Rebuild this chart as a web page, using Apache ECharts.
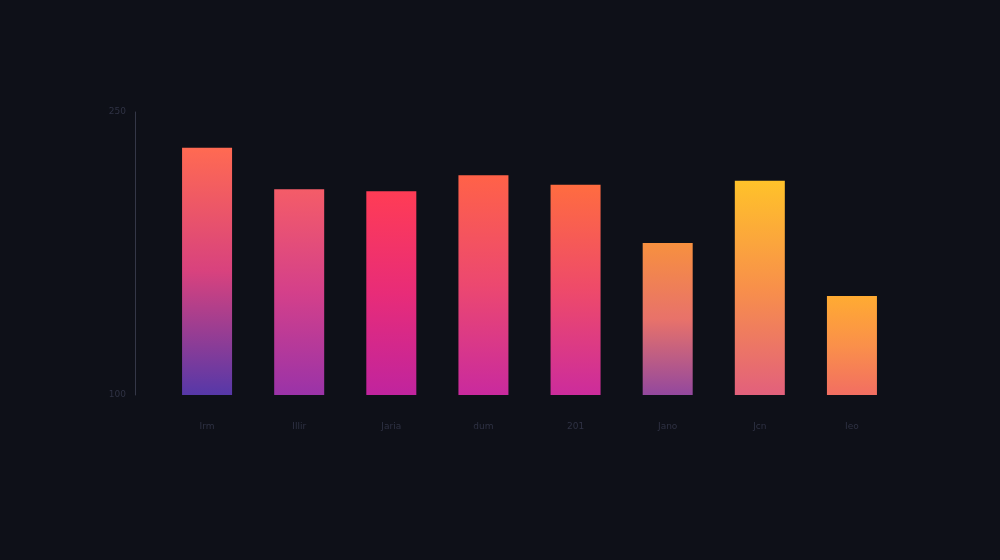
<!DOCTYPE html>
<html>
<head>
<meta charset="utf-8">
<script src="https://cdn.jsdelivr.net/npm/echarts@6/dist/echarts.min.js"></script>
<style>
html,body{margin:0;padding:0;background:#0e1018;}
#c{width:1000px;height:560px;}
</style>
</head>
<body>
<div id="c"></div>
<script>
const categories = ['Irm', 'Illir', 'Jaria', 'dum', '201', 'Jano', 'Jcn', 'Ieo'];
const values = [231, 209, 208, 216.5, 211.5, 180.5, 213.5, 152.5];
const topColors = ['#ff6a52', '#f45c68', '#ff3c55', '#ff6248', '#ff6c40', '#f7903f', '#ffc22a', '#ffab32'];
const midColors = ['#d8427e', '#d4408a', '#e82c78', '#ec4870', '#ee4a6a', '#e8726a', '#f8904a', '#fa904a'];
const bottomColors = ['#5638a8', '#9a33a8', '#c0249e', '#c92a9e', '#cc2c9c', '#93489e', '#e2607c', '#f26e62'];
const yTickLabels = { 100: '100', 250: '250' };

const chart = echarts.init(document.getElementById('c'));
chart.setOption({
  backgroundColor: '#0e1018',
  animation: false,
  grid: { left: 161, right: 102, top: 112, bottom: 165 },
  xAxis: {
    type: 'category',
    data: categories,
    axisLine: { show: false },
    axisTick: { show: false },
    axisLabel: { color: '#2f3244', fontSize: 9, margin: 27, fontFamily: 'DejaVu Sans' }
  },
  yAxis: {
    type: 'value',
    min: 100,
    max: 250,
    interval: 50,
    offset: 26,
    splitLine: { show: false },
    axisTick: { show: false },
    axisLine: { show: true, lineStyle: { color: '#343747', width: 1 } },
    axisLabel: {
      color: '#2f3244', fontSize: 9, margin: 9, fontFamily: 'DejaVu Sans',
      formatter: v => yTickLabels[v] || ''
    }
  },
  series: [{
    type: 'bar',
    barWidth: 50,
    data: values.map((v, i) => ({
      value: v,
      itemStyle: {
        color: new echarts.graphic.LinearGradient(0, 0, 0, 1, [
          { offset: 0, color: topColors[i] },
          { offset: 0.5, color: midColors[i] },
          { offset: 1, color: bottomColors[i] }
        ])
      }
    }))
  }]
});
</script>
</body>
</html>
